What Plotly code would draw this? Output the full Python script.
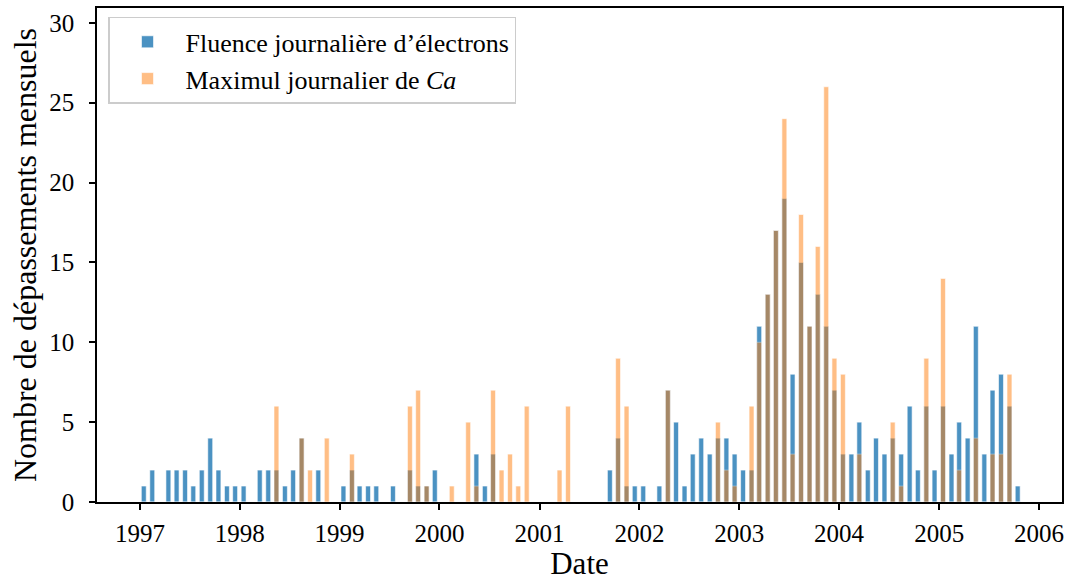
import pandas as pd
import plotly.graph_objects as go

# Monthly exceedance counts, Jan 1997 .. Oct 2005
electrons_1997 = [1, 2, 0, 2, 2, 2, 1, 2, 4, 2, 1, 1]
electrons_1998 = [1, 0, 2, 2, 2, 1, 2, 4, 0, 2, 0, 0]
electrons_1999 = [1, 2, 1, 1, 1, 0, 1, 0, 2, 1, 1, 2]
electrons_2000 = [0, 0, 0, 0, 3, 1, 3, 0, 0, 0, 0, 0]
electrons_2001 = [0, 0, 0, 0, 0, 0, 0, 0, 2, 4, 1, 1]
electrons_2002 = [1, 0, 1, 7, 5, 1, 3, 4, 3, 4, 4, 3]
electrons_2003 = [2, 2, 11, 13, 17, 19, 8, 15, 11, 13, 11, 7]
electrons_2004 = [3, 3, 5, 2, 4, 3, 4, 3, 6, 2, 6, 2]
electrons_2005 = [6, 3, 5, 4, 11, 3, 7, 8, 6, 1]

ca_1997 = [0, 0, 0, 0, 0, 0, 0, 0, 0, 0, 0, 0]
ca_1998 = [0, 0, 0, 0, 6, 0, 0, 4, 2, 0, 4, 0]
ca_1999 = [0, 3, 0, 0, 0, 0, 0, 0, 6, 7, 1, 0]
ca_2000 = [0, 1, 0, 5, 1, 0, 7, 2, 3, 1, 6, 0]
ca_2001 = [0, 0, 2, 6, 0, 0, 0, 0, 0, 9, 6, 0]
ca_2002 = [0, 0, 0, 7, 0, 0, 0, 0, 0, 5, 2, 1]
ca_2003 = [0, 6, 10, 13, 17, 24, 3, 18, 11, 16, 26, 9]
ca_2004 = [8, 0, 3, 0, 0, 0, 5, 1, 0, 0, 9, 0]
ca_2005 = [14, 0, 2, 0, 4, 0, 3, 3, 8, 0]

electrons = (electrons_1997 + electrons_1998 + electrons_1999 + electrons_2000 +
             electrons_2001 + electrons_2002 + electrons_2003 + electrons_2004 +
             electrons_2005)
ca = (ca_1997 + ca_1998 + ca_1999 + ca_2000 + ca_2001 + ca_2002 + ca_2003 +
      ca_2004 + ca_2005)

months = pd.date_range("1997-01-01", periods=len(electrons), freq="MS") + pd.Timedelta(days=14)

label_electrons = "Fluence journalière d’électrons"
label_ca = "Maximul journalier de <i>Ca</i>"
x_title = "Date"
y_title = "Nombre de dépassements mensuels"

FONT = "Liberation Serif, Times New Roman, serif"
bar_width = 18 * 24 * 3600 * 1000

fig = go.Figure()
fig.add_trace(go.Bar(
    x=months, y=electrons, name=label_electrons, width=bar_width,
    marker=dict(color="#1f77b4", line=dict(color="white", width=0.6)),
    opacity=0.8,
))
fig.add_trace(go.Bar(
    x=months, y=ca, name=label_ca, width=bar_width,
    marker=dict(color="#ff7f0e", line=dict(color="white", width=0.6)),
    opacity=0.5,
))

fig.update_layout(
    width=1071, height=581,
    barmode="overlay",
    plot_bgcolor="white", paper_bgcolor="white",
    margin=dict(l=97, r=9, t=8, b=79, autoexpand=False),
    font=dict(family=FONT, size=25, color="black"),
    showlegend=True,
    legend=dict(
        x=0.0114, y=0.982, xanchor="left", yanchor="top",
        bgcolor="rgba(255,255,255,0.85)", bordercolor="#cccccc", borderwidth=1.5,
        font=dict(family=FONT, size=26, color="black"),
        itemwidth=66,
    ),
    xaxis=dict(
        type="date", automargin=True,
        range=["1996-07-28", "2006-03-26"],
        tick0="1997-01-01", dtick="M12", tickformat="%Y",
        showgrid=False, zeroline=False,
        showline=True, linecolor="black", linewidth=1.5, mirror=True,
        ticks="outside", ticklen=6, tickwidth=1.5, tickcolor="black",
        ticklabelstandoff=2,
        title=dict(text=x_title, font=dict(family=FONT, size=31), standoff=25),
    ),
    yaxis=dict(
        automargin=True,
        range=[0, 30.93],
        tick0=0, dtick=5,
        showgrid=False, zeroline=False,
        showline=True, linecolor="black", linewidth=1.5, mirror=True,
        ticks="outside", ticklen=6, tickwidth=1.5, tickcolor="black",
        ticklabelstandoff=10,
        title=dict(text=y_title, font=dict(family=FONT, size=32), standoff=3),
    ),
)

fig.write_html(
    "out.html",
    config={"displayModeBar": False},
    post_script="document.body.style.margin='0';document.body.style.overflow='hidden';",
)
